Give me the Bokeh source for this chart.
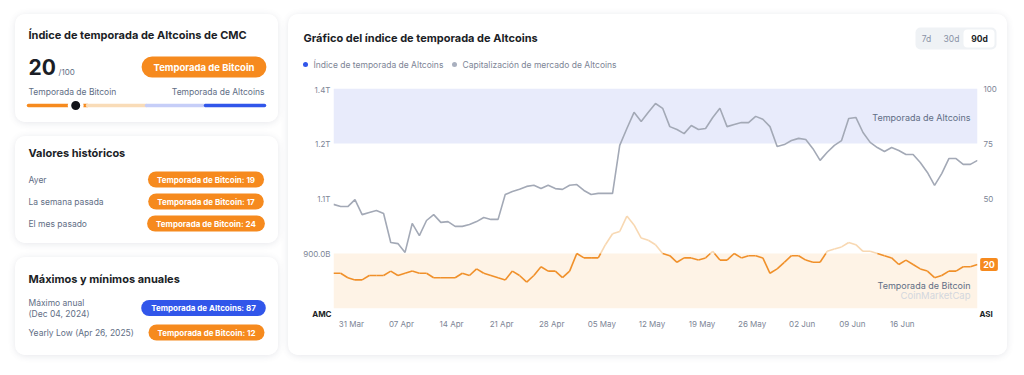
import datetime as dt
from bokeh.plotting import figure
from bokeh.models import (Range1d, LinearAxis, FixedTicker, DatetimeTickFormatter,
                          BoxAnnotation)
from bokeh.layouts import row, column
from bokeh.core.properties import value
from bokeh.embed import file_html
from bokeh.resources import INLINE

FONT = value("Inter")
ORANGE = "#f68a1e"
PALE_ORANGE = "#f8d8b2"
BLUE = "#3156ea"
DARK = "#1b1e26"
GREY = "#616e85"
AXIS_GREY = "#7d8596"

# ---------------- data ----------------
first_day = "2025-03-28"
altcoin_index = [
    16, 16, 14, 13, 13, 15, 15, 15, 17, 15,
    16, 17, 16, 16, 14, 14, 14, 14, 16, 15,
    18, 16, 15, 14, 13, 17, 15, 12, 15, 19,
    17, 17, 14, 17, 25, 23, 23, 23, 29, 34,
    35, 42, 38, 32, 31, 29, 25, 24, 21, 23,
    23, 22, 23, 26, 22, 22, 25, 23, 24, 24,
    23, 16, 18, 21, 24, 24, 22, 21, 21, 26,
    27, 28, 30, 29, 26, 26, 25, 24, 23, 20,
    22, 20, 18, 17, 14, 15, 17, 17, 19, 19,
    20,
]
altcoin_mcap_billion = [
    1034, 1028, 1028, 1047, 1006, 1012, 1017, 1009, 930, 927,
    903, 982, 949, 990, 1006, 985, 987, 974, 974, 979,
    987, 998, 993, 993, 1061, 1069, 1075, 1083, 1086, 1077,
    1086, 1077, 1075, 1086, 1088, 1072, 1061, 1064, 1064, 1064,
    1195, 1241, 1285, 1260, 1285, 1309, 1296, 1246, 1238, 1227,
    1249, 1238, 1241, 1271, 1296, 1246, 1252, 1257, 1257, 1274,
    1266, 1246, 1192, 1197, 1208, 1214, 1211, 1186, 1154, 1176,
    1195, 1208, 1268, 1271, 1230, 1203, 1189, 1178, 1189, 1181,
    1170, 1170, 1148, 1121, 1086, 1118, 1159, 1159, 1143, 1143,
    1154,
]
x_tick_dates = ["2025-03-31", "2025-04-07", "2025-04-14", "2025-04-21",
                "2025-04-28", "2025-05-05", "2025-05-12", "2025-05-19",
                "2025-05-26", "2025-06-02", "2025-06-09", "2025-06-16"]
mcap_ticks = [900, 1050, 1200, 1350]
mcap_tick_labels = ["900.0B", "1.1T", "1.2T", "1.4T"]
index_ticks = [50, 75, 100]
index_tick_labels = ["50", "75", "100"]
season_bounds = [0, 25, 50, 75, 100]
season_colors = [ORANGE, "#f9dcb8", "#c6cef8", BLUE]
current_index = 20
history_labels = ["Ayer", "La semana pasada", "El mes pasado"]
history_values = [19, 17, 24]
yearly_high = 87
yearly_high_date = "Dec 04, 2024"
yearly_low = 12
yearly_low_date = "Apr 26, 2025"
range_buttons = ["7d", "30d", "90d"]

# ---------------- helpers ----------------
EPOCH = dt.datetime(1970, 1, 1)


def ms(d):
    return (d - EPOCH).total_seconds() * 1000.0


d0 = dt.datetime.strptime(first_day, "%Y-%m-%d") + dt.timedelta(hours=12)
x_ms = [ms(d0 + dt.timedelta(days=i)) for i in range(len(altcoin_index))]
tick_ms = [ms(dt.datetime.strptime(s, "%Y-%m-%d")) for s in x_tick_dates]

CARD_STYLE = {"border-radius": "10px", "overflow": "hidden",
              "box-shadow": "0 1px 7px rgba(60,70,100,0.13)"}


def canvas(w, h):
    p = figure(width=w, height=h, x_range=(0, w), y_range=(0, h),
               x_axis_location=None, y_axis_location=None, min_border=0,
               toolbar_location=None, output_backend="svg",
               outline_line_color=None, background_fill_color="white",
               border_fill_color="white")
    p.grid.grid_line_color = None
    p.frame_align = False
    return p


def put(p, x, y_top, s, size, color, bold=False, align="left", **kw):
    p.text(x=[x], y=[p.height - y_top], text=[s], text_font=FONT,
           text_font_size=size, text_color=color,
           text_font_style="bold" if bold else "normal",
           text_align=align, text_baseline="middle", **kw)


def badge(p, x, y_top, s, size, fill, padx, pady, radius):
    put(p, x, y_top, s, size, "white", bold=True, align="center",
        background_fill_color=fill,
        padding=dict(left=padx, right=padx, top=pady, bottom=pady),
        border_radius=radius)


# ---------------- card 1 ----------------
c1 = canvas(263, 108)
c1.styles = CARD_STYLE
put(c1, 13, 20, "Índice de temporada de Altcoins de CMC", "11px", DARK, bold=True)
put(c1, 13, 52, str(current_index), "21px", DARK, bold=True)
put(c1, 43, 57, "/100", "8px", GREY)
badge(c1, 188.5, 52.5, "Temporada de Bitcoin", "9.5px", ORANGE, 12, 5, 11)
put(c1, 13, 77, "Temporada de Bitcoin", "8.5px", GREY)
put(c1, 249, 77, "Temporada de Altcoins", "8.5px", GREY, align="right")
c1.extra_x_ranges = {"g": Range1d(-13 / 2.36, (263 - 13) / 2.36)}
gy = c1.height - 91
c1.segment(x0=season_bounds[:-1], x1=season_bounds[1:], y0=[gy] * 4, y1=[gy] * 4,
           line_color=season_colors, line_width=3.5, line_cap="round",
           x_range_name="g")
c1.scatter(x=[current_index], y=[gy], size=12.5, fill_color="#12141a",
           line_color="white", line_width=3.5, x_range_name="g")

# ---------------- card 2 ----------------
c2 = canvas(263, 107)
c2.styles = CARD_STYLE
put(c2, 13, 16, "Valores históricos", "11px", DARK, bold=True)
for i, (lab, v) in enumerate(zip(history_labels, history_values)):
    yy = 43 + 22 * i
    put(c2, 13, yy, lab, "8.5px", GREY)
    badge(c2, 190.5, yy, f"Temporada de Bitcoin: {v}", "8px", ORANGE, 9, 3, 8)

# ---------------- card 3 ----------------
c3 = canvas(263, 98)
c3.styles = CARD_STYLE
put(c3, 13, 21, "Máximos y mínimos anuales", "11px", DARK, bold=True)
put(c3, 13, 45, "Máximo anual", "8.5px", GREY)
put(c3, 13, 56, f"({yearly_high_date})", "8.5px", GREY)
badge(c3, 188, 50.5, f"Temporada de Altcoins: {yearly_high}", "8px", BLUE, 10, 3, 8)
put(c3, 13, 75, f"Yearly Low ({yearly_low_date})", "8.5px", GREY)
badge(c3, 191, 75, f"Temporada de Bitcoin: {yearly_low}", "8px", ORANGE, 9, 3, 8)

# ---------------- right card header ----------------
head = canvas(719, 70)
put(head, 15, 23, "Gráfico del índice de temporada de Altcoins", "11px", DARK, bold=True)
head.scatter(x=[17], y=[head.height - 50], size=5, fill_color=BLUE, line_color=None)
put(head, 25, 50, "Índice de temporada de Altcoins", "8.5px", "#7d8596")
head.scatter(x=[166], y=[head.height - 50], size=5, fill_color="#a9b0bf", line_color=None)
put(head, 174, 50, "Capitalización de mercado de Altcoins", "8.5px", "#7d8596")
head.add_layout(BoxAnnotation(left=627, right=708, bottom=head.height - 35,
                              top=head.height - 13, fill_color="#eff2f5",
                              fill_alpha=1, line_color=None, border_radius=5,
                              level="underlay"))
head.add_layout(BoxAnnotation(left=675, right=706, bottom=head.height - 33,
                              top=head.height - 15, fill_color="white",
                              fill_alpha=1, line_color=None, border_radius=4,
                              level="underlay"))
for bx, lab in zip([638, 663, 691], range_buttons):
    sel = lab == "90d"
    put(head, bx, 24, lab, "8.5px", DARK if sel else "#8a93a6", bold=sel, align="center")

# ---------------- chart ----------------
chart = figure(width=719, height=271, x_axis_type="datetime",
               x_range=Range1d(x_ms[0], x_ms[-1]), y_range=Range1d(750, 1350),
               toolbar_location=None, output_backend="svg",
               min_border_left=45, min_border_right=30, min_border_top=4,
               min_border_bottom=47, outline_line_color=None,
               background_fill_color="white", border_fill_color="white")
chart.frame_align = False
chart.extra_y_ranges = {"idx": Range1d(0, 100)}
chart.grid.grid_line_color = None

chart.add_layout(BoxAnnotation(bottom=75, top=100, y_range_name="idx",
                               fill_color="#e8ebfb", fill_alpha=1, line_color=None,
                               level="underlay"))
chart.add_layout(BoxAnnotation(bottom=0, top=25, y_range_name="idx",
                               fill_color="#fef3e6", fill_alpha=1, line_color=None,
                               level="underlay"))


def style_axis(ax, standoff):
    ax.axis_line_color = None
    ax.major_tick_line_color = None
    ax.minor_tick_line_color = None
    ax.major_tick_out = 0
    ax.major_tick_in = 0
    ax.minor_tick_out = 0
    ax.minor_tick_in = 0
    ax.major_label_standoff = standoff
    ax.major_label_text_font = "Inter"
    ax.major_label_text_font_size = "8px"
    ax.major_label_text_color = AXIS_GREY


xa = chart.xaxis[0]
xa.ticker = FixedTicker(ticks=tick_ms)
xa.formatter = DatetimeTickFormatter(days="%d %b", months="%d %b", hours="%d %b")
style_axis(xa, 10)
ya = chart.yaxis[0]
ya.ticker = FixedTicker(ticks=mcap_ticks)
ya.major_label_overrides = dict(zip(mcap_ticks, mcap_tick_labels))
style_axis(ya, 3)
ra = LinearAxis(y_range_name="idx", ticker=FixedTicker(ticks=index_ticks),
                major_label_overrides=dict(zip(index_ticks, index_tick_labels)))
style_axis(ra, 6)
chart.add_layout(ra, "right")

# market cap line (left axis)
chart.line(x_ms, altcoin_mcap_billion, line_color="#a3a9b6", line_width=1.6)

# index line: orange inside Bitcoin-season zone, pale above it
TH = 25
lo_x, lo_y, hi_x, hi_y = [], [], [], []
for i in range(len(x_ms) - 1):
    xa0, xa1 = x_ms[i], x_ms[i + 1]
    v0, v1 = altcoin_index[i], altcoin_index[i + 1]
    if v0 <= TH and v1 <= TH:
        lo_x.append([xa0, xa1]); lo_y.append([v0, v1])
    elif v0 >= TH and v1 >= TH:
        hi_x.append([xa0, xa1]); hi_y.append([v0, v1])
    else:
        xc = xa0 + (TH - v0) / (v1 - v0) * (xa1 - xa0)
        if v0 < TH:
            lo_x.append([xa0, xc]); lo_y.append([v0, TH])
            hi_x.append([xc, xa1]); hi_y.append([TH, v1])
        else:
            hi_x.append([xa0, xc]); hi_y.append([v0, TH])
            lo_x.append([xc, xa1]); lo_y.append([TH, v1])
chart.multi_line(hi_x, hi_y, line_color=PALE_ORANGE, line_width=1.6, y_range_name="idx")
chart.multi_line(lo_x, lo_y, line_color="#f0902a", line_width=1.6, y_range_name="idx")


def ctext(x, y, s, size, color, align="right", xo=-7, yo=0, bold=False, **kw):
    chart.text(x=[x], y=[y], text=[s], y_range_name="idx", x_offset=xo, y_offset=yo,
               text_align=align, text_baseline="middle", text_font=FONT,
               text_font_size=size, text_color=color,
               text_font_style="bold" if bold else "normal", **kw)


ctext(x_ms[-1], 87, "Temporada de Altcoins", "9px", GREY)
ctext(x_ms[-1], 10.5, "Temporada de Bitcoin", "9px", GREY)
ctext(x_ms[-1], 6, "CoinMarketCap", "9.5px", "#d3d7de")

# axis-end captions and current-value marker (drawn above the frame clip)
ctext(x_ms[0], 0, "AMC", "8px", DARK, align="right", xo=-2, yo=5, bold=True,
      level="overlay")
ctext(x_ms[-1], 0, "ASI", "8px", DARK, align="left", xo=2, yo=5, bold=True,
      level="overlay")
ctext(x_ms[-1], altcoin_index[-1], str(altcoin_index[-1]), "9px", "white",
      align="center", xo=11.5, bold=True, level="overlay",
      background_fill_color=ORANGE, padding=dict(left=3, right=3, top=3, bottom=3),
      border_radius=2)


right = column(head, chart, spacing=0)
right.styles = CARD_STYLE
left = column(c1, c2, c3, spacing=14)
content = row(left, right, spacing=10)
page = row(canvas(15, 355), column(canvas(992, 14), content))

open("out.html", "w").write(file_html(page, INLINE))
